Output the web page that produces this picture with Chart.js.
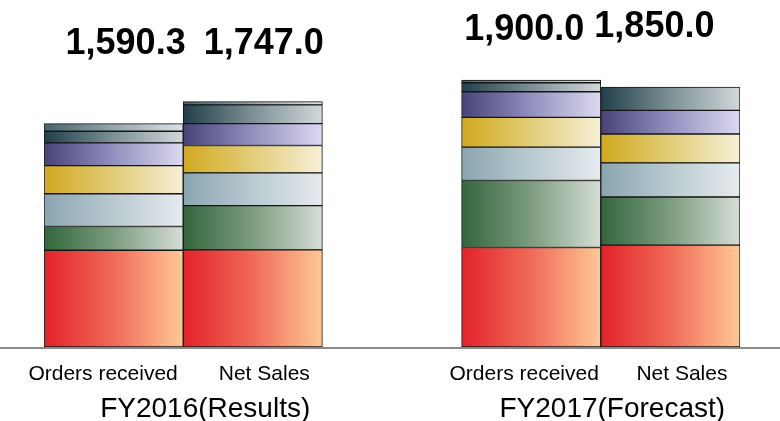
<!DOCTYPE html>
<html lang="en">
<head>
  <meta charset="UTF-8">
  <title>Orders received / Net Sales</title>
  <script src="https://cdn.jsdelivr.net/npm/chart.js"></script>
  <style>
    html, body { margin: 0; padding: 0; background: #fff; }
    #wrap { width: 780px; height: 421px; position: relative; }
  </style>
</head>
<body>
  <div id="wrap"><canvas id="salesChart"></canvas></div>

  <script>
    // slots: two bars per fiscal year, empty slot in the middle
    const categories = ['Orders received', 'Net Sales', '', 'Orders received', 'Net Sales'];
    const groupLabels = ['FY2016(Results)', 'FY2017(Forecast)'];
    const totals = ['1,590.3', '1,747.0', null, '1,900.0', '1,850.0'];

    // stacked segments, bottom to top
    const seg1 = [689, 691, null, 708, 725];
    const seg2 = [169, 315, null, 477, 343];
    const seg3 = [233, 234, null, 238, 243];
    const seg4 = [200, 194, null, 212, 205];
    const seg5 = [162, 156, null, 182, 168];
    const seg6 = [83, 133, null, 64, 166];
    const seg7 = [54, 24, null, 19, 0];

    // left -> right gradient stops for each segment
    const shades = [
      ['#e3222a', '#f06a58', '#fec996'],
      ['#33663c', '#7d9c80', '#d6ded6'],
      ['#8aa5b0', '#b9cad0', '#e6ebee'],
      ['#d1a920', '#e2cd78', '#f6f0d8'],
      ['#484377', '#9290bf', '#dcd9f0'],
      ['#213f4a', '#7d9095', '#d2d8da'],
      ['#46646e', '#94a6aa', '#dde2e3']
    ];

    const FONT = '"Liberation Sans", Arial, sans-serif';

    function barGradient(ctx, idx) {
      const chart = ctx.chart;
      if (!chart.chartArea) return shades[idx][0];
      const x = chart.scales.x;
      const half = (x.width / categories.length) / 2;
      const cx = x.getPixelForValue(ctx.dataIndex);
      const g = chart.ctx.createLinearGradient(cx - half, 0, cx + half, 0);
      g.addColorStop(0, shades[idx][0]);
      g.addColorStop(0.5, shades[idx][1]);
      g.addColorStop(1, shades[idx][2]);
      return g;
    }

    const segs = [seg1, seg2, seg3, seg4, seg5, seg6, seg7];
    const datasets = segs.map((d, i) => ({
      label: 'seg' + (i + 1),
      data: d,
      backgroundColor: c => barGradient(c, i),
      borderColor: '#151515',
      borderWidth: 1,
      borderSkipped: false
    }));

    // text offsets relative to bar centres (the original is not centred)
    const totalShift = [12, 11, 0, -7, -16];
    const totalY = [44, 44, 0, 30, 27];
    const tickShift = [-10.5, 11.5, 0, -7, 11.5];
    const groupShift = [22, 11.5];

    const decorate = {
      id: 'decorate',
      afterDatasetsDraw(chart) {
        const c = chart.ctx;
        const x = chart.scales.x;
        const y = chart.scales.y;
        const base = y.getPixelForValue(0);

        c.save();
        // baseline over the whole width
        c.strokeStyle = '#8a8a8a';
        c.lineWidth = 2;
        c.beginPath();
        c.moveTo(0, base + 1);
        c.lineTo(chart.width, base + 1);
        c.stroke();

        c.fillStyle = '#000';
        c.textAlign = 'center';
        c.textBaseline = 'middle';

        // totals
        c.font = 'bold 36px ' + FONT;
        totals.forEach((t, i) => {
          if (!t) return;
          c.fillText(t, x.getPixelForValue(i) + totalShift[i], totalY[i]);
        });

        // category labels
        c.font = '21px ' + FONT;
        categories.forEach((t, i) => {
          if (!t) return;
          c.fillText(t, x.getPixelForValue(i) + tickShift[i], base + 27);
        });

        // fiscal year labels, centred on the pair of bars
        c.font = '28px ' + FONT;
        groupLabels.forEach((t, g) => {
          const mid = (x.getPixelForValue(g * 3) + x.getPixelForValue(g * 3 + 1)) / 2;
          c.fillText(t, mid + groupShift[g], base + 62);
        });
        c.restore();
      }
    };

    new Chart(document.getElementById('salesChart'), {
      type: 'bar',
      data: { labels: categories, datasets: datasets },
      options: {
        responsive: true,
        maintainAspectRatio: false,
        animation: false,
        layout: { padding: { left: 44, right: 40, top: 0, bottom: 74 } },
        datasets: { bar: { categoryPercentage: 1, barPercentage: 1 } },
        scales: {
          x: { stacked: true, display: false },
          y: { stacked: true, display: false, min: 0, max: 2470 }
        },
        plugins: {
          legend: { display: false },
          tooltip: { enabled: false }
        }
      },
      plugins: [decorate]
    });
  </script>
</body>
</html>
